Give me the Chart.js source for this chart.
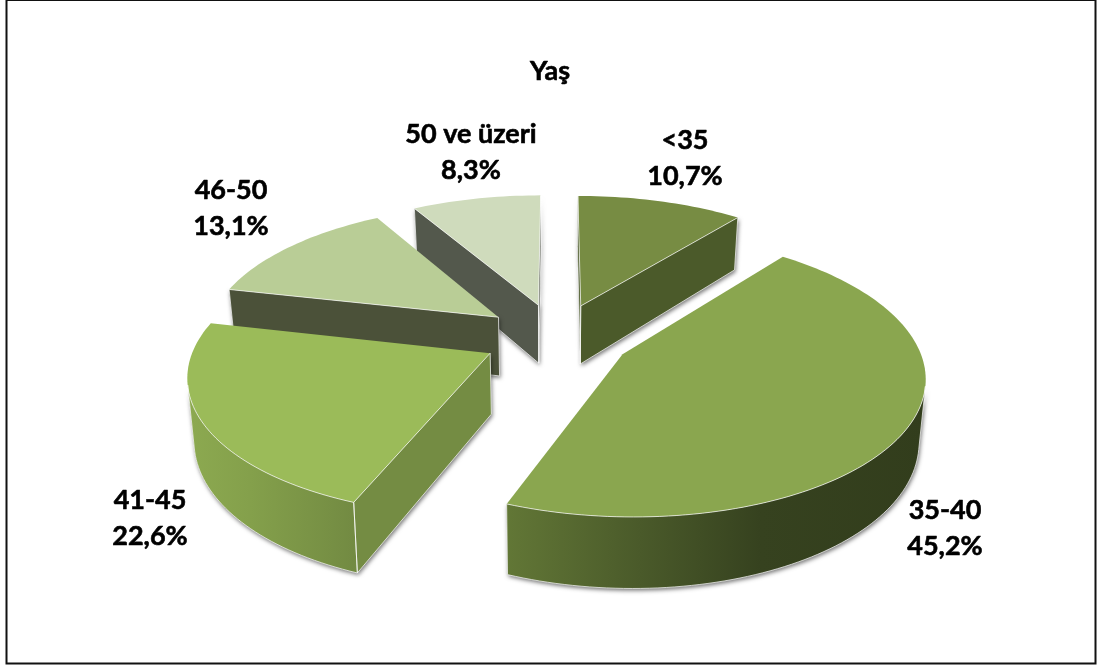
<!DOCTYPE html>
<html lang="tr">
<head>
<meta charset="utf-8">
<title>Yaş</title>
<script src="https://cdn.jsdelivr.net/npm/chart.js@4"></script>
<style>
  html, body { margin: 0; padding: 0; background: #fff; overflow: hidden; }
  canvas { display: block; }
</style>
</head>
<body>
<canvas id="pie" width="1097" height="665"></canvas>
<script>
// Age distribution
const chartTitle = 'Yaş';
const categories = ['<35', '35-40', '41-45', '46-50', '50 ve üzeri'];
const shares = [10.7, 45.2, 22.6, 13.1, 8.3];

// Face colours per slice
const topColors = ['#778c43', '#8aa64f', '#9bbb59', '#b9cd96', '#cfdbbc'];
const sideColors = ['#4b5a2a', '#5e7334', '#748c43', '#4b5139', '#53584c'];
const rimStops = [
  null,
  [[506, '#627736'], [640, '#4a5a2a'], [760, '#36421f'], [926, '#323d1c']],
  [[190, '#8ca950'], [250, '#84a04b'], [357, '#728a42']],
  null,
  null
];

// Centre of each two-line label
const labelCentres = [[685, 158], [945, 528], [150, 518], [231, 208], [471, 152]];

// Perspective camera for the tilted pie
const view = { cx: 557, cy: 337, spanX: 293, spanY: 134, depth: 7, height: 60, taper: 0.982 };
const explode = 65;
const fontFamily = 'Lato, "Open Sans", sans-serif';
const textSize = 27;

function project(u, v) {
  const s = view.depth / (view.depth - v);
  const x = view.cx + view.spanX * u * s;
  const y = view.cy + view.spanY * v * s;
  return {
    x, y,
    bx: view.cx + (x - view.cx) * view.taper,
    by: y + view.height * s
  };
}

function slicePoints(arc) {
  const R = arc.outerRadius;
  const e = arc.options.offset / R;
  const mid = (arc.startAngle + arc.endAngle) / 2;
  const ox = Math.cos(mid) * e;
  const oy = Math.sin(mid) * e;
  const steps = Math.max(2, Math.ceil((arc.endAngle - arc.startAngle) / 0.025));
  const rim = [];
  for (let i = 0; i <= steps; i++) {
    const a = arc.startAngle + (arc.endAngle - arc.startAngle) * i / steps;
    rim.push(project(Math.cos(a) + ox, Math.sin(a) + oy));
  }
  return { apex: project(ox, oy), rim, depthKey: oy };
}

// A wall faces the viewer when its top edge runs against the drop of the extrusion
function faces(p, q) {
  const ex = q.x - p.x, ey = q.y - p.y;
  const dx = p.bx - p.x, dy = p.by - p.y;
  return ex * dy - ey * dx < 0;
}

function wallPath(ctx, pts) {
  ctx.beginPath();
  pts.forEach((p, i) => i ? ctx.lineTo(p.x, p.y) : ctx.moveTo(p.x, p.y));
  for (let i = pts.length - 1; i >= 0; i--) ctx.lineTo(pts[i].bx, pts[i].by);
  ctx.closePath();
}

function topPath(ctx, s) {
  ctx.beginPath();
  ctx.moveTo(s.apex.x, s.apex.y);
  s.rim.forEach(p => ctx.lineTo(p.x, p.y));
  ctx.closePath();
}

function drawSlice(ctx, s, index) {
  const first = s.rim[0], last = s.rim[s.rim.length - 1];
  const walls = [];
  if (faces(s.apex, first)) walls.push({ pts: [s.apex, first], fill: sideColors[index] });
  if (faces(last, s.apex)) walls.push({ pts: [last, s.apex], fill: sideColors[index] });

  // Visible run of the curved outer wall
  const run = [];
  for (let i = 0; i < s.rim.length - 1; i++) {
    if (faces(s.rim[i], s.rim[i + 1])) {
      if (!run.length) run.push(s.rim[i]);
      run.push(s.rim[i + 1]);
    }
  }
  if (run.length && rimStops[index]) {
    const stops = rimStops[index];
    const g = ctx.createLinearGradient(stops[0][0], 0, stops[stops.length - 1][0], 0);
    const span = stops[stops.length - 1][0] - stops[0][0];
    stops.forEach(([x, c]) => g.addColorStop((x - stops[0][0]) / span, c));
    walls.push({ pts: run, fill: g });
  } else if (run.length) {
    walls.push({ pts: run, fill: sideColors[index] });
  }

  // Soft ground shadow under the walls
  ctx.save();
  ctx.shadowColor = 'rgba(0,0,0,0.55)';
  ctx.shadowBlur = 4;
  ctx.shadowOffsetX = 1;
  ctx.shadowOffsetY = 2;
  walls.forEach(w => { ctx.fillStyle = '#777'; wallPath(ctx, w.pts); ctx.fill(); });
  ctx.restore();

  walls.forEach(w => {
    ctx.fillStyle = w.fill;
    wallPath(ctx, w.pts);
    ctx.fill();
  });

  ctx.fillStyle = topColors[index];
  topPath(ctx, s);
  ctx.fill();

  // Pale highlight along the edges
  ctx.strokeStyle = 'rgba(255,255,255,0.7)';
  ctx.lineWidth = 1;
  ctx.lineJoin = 'round';
  walls.forEach(w => {
    ctx.beginPath();
    w.pts.forEach((p, i) => i ? ctx.lineTo(p.x, p.y) : ctx.moveTo(p.x, p.y));
    ctx.stroke();
    const a = w.pts[0], b = w.pts[w.pts.length - 1];
    ctx.beginPath();
    ctx.moveTo(a.x, a.y); ctx.lineTo(a.bx, a.by);
    ctx.moveTo(b.x, b.y); ctx.lineTo(b.bx, b.by);
    ctx.stroke();
    ctx.beginPath();
    w.pts.forEach((p, i) => i ? ctx.lineTo(p.bx, p.by) : ctx.moveTo(p.bx, p.by));
    ctx.stroke();
  });
}

function heavyText(ctx, text, x, y) {
  ctx.fillText(text, x, y);
  ctx.strokeText(text, x, y);
}

const tiltedPie = {
  id: 'tiltedPie',
  beforeDraw(chart) {
    const { ctx } = chart;
    ctx.save();
    ctx.strokeStyle = '#111';
    ctx.lineWidth = 2;
    ctx.strokeRect(6.5, 0, 1089, 663.5);
    ctx.restore();
  },
  beforeDatasetDraw(chart, args) {
    const { ctx } = chart;
    const slices = args.meta.data.map((arc, index) => ({ index, s: slicePoints(arc) }));
    slices.sort((a, b) => a.s.depthKey - b.s.depthKey);
    slices.forEach(({ index, s }) => drawSlice(ctx, s, index));
    return false;
  },
  afterDraw(chart) {
    const { ctx } = chart;
    ctx.save();
    ctx.fillStyle = '#000';
    ctx.strokeStyle = '#000';
    ctx.lineWidth = 0.6;
    ctx.lineJoin = 'round';
    ctx.font = 'bold ' + textSize + 'px ' + fontFamily;
    ctx.textAlign = 'center';
    ctx.textBaseline = 'middle';
    // Thicken the title to the same weight as the slice labels
    const tb = chart.titleBlock;
    ctx.strokeText(chartTitle, (tb.left + tb.right) / 2, tb.top + tb.options.padding.top + textSize * 0.6);
    categories.forEach((name, i) => {
      const [x, y] = labelCentres[i];
      heavyText(ctx, name, x, y - 18);
      heavyText(ctx, shares[i].toFixed(1).replace('.', ',') + '%', x, y + 18);
    });
    ctx.restore();
  }
};

new Chart(document.getElementById('pie'), {
  type: 'pie',
  data: {
    labels: categories,
    datasets: [{ data: shares, backgroundColor: topColors, offset: explode, borderWidth: 0 }]
  },
  options: {
    responsive: false,
    animation: false,
    layout: { padding: { left: 3 } },
    plugins: {
      legend: { display: false },
      tooltip: { enabled: false },
      title: {
        display: true,
        text: chartTitle,
        color: '#000',
        font: { family: fontFamily, size: textSize, weight: 'bold' },
        padding: { top: 55, bottom: 0 }
      }
    }
  },
  plugins: [tiltedPie]
});
</script>
</body>
</html>
